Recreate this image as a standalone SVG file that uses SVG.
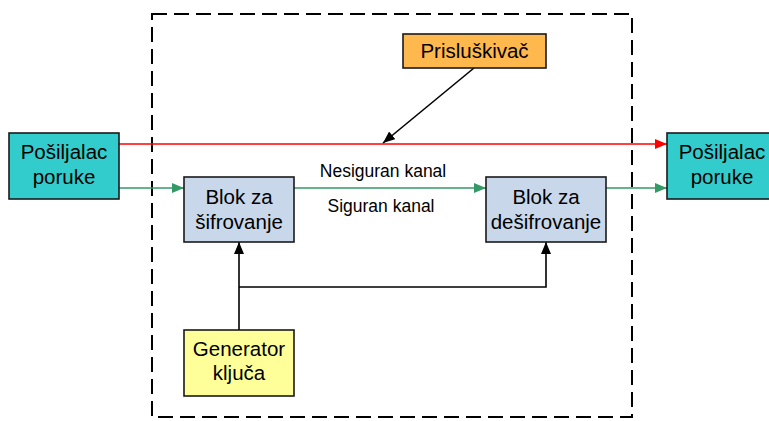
<svg xmlns="http://www.w3.org/2000/svg" width="769" height="421" viewBox="0 0 769 421">
  <style>
    .box { stroke: #1a1a1a; stroke-width: 1.6; }
    .t { font-family: "Liberation Sans", Arial, sans-serif; font-size: 20.5px; fill: #000; text-anchor: middle; }
    .lbl { font-family: "Liberation Sans", Arial, sans-serif; font-size: 17.5px; fill: #000; text-anchor: middle; }
    .green { stroke: #339966; stroke-width: 1.6; fill: none; }
    .red { stroke: #ff0000; stroke-width: 1.6; fill: none; }
    .black { stroke: #000; stroke-width: 1.6; fill: none; }
  </style>
  <defs>
    <marker id="ahGreen" markerWidth="12" markerHeight="10" refX="12" refY="5" orient="auto" markerUnits="userSpaceOnUse">
      <path d="M0,0 L12,5 L0,10 Z" fill="#339966"/>
    </marker>
    <marker id="ahRed" markerWidth="12" markerHeight="10" refX="12" refY="5" orient="auto" markerUnits="userSpaceOnUse">
      <path d="M0,0 L12,5 L0,10 Z" fill="#ff0000"/>
    </marker>
    <marker id="ahBlack" markerWidth="12" markerHeight="10" refX="12" refY="5" orient="auto" markerUnits="userSpaceOnUse">
      <path d="M0,0 L12,5 L0,10 Z" fill="#000"/>
    </marker>
  </defs>

  <rect width="769" height="421" fill="#fff"/>

  <!-- dashed boundary of the channel region -->
  <rect id="boundary" x="152" y="14" width="480" height="403" fill="none" stroke="#000" stroke-width="2" stroke-dasharray="15 7"/>

  <g id="connectors">
    <line class="red" x1="119" y1="144" x2="667" y2="144" marker-end="url(#ahRed)"/>
    <line class="green" x1="119" y1="188" x2="184" y2="188" marker-end="url(#ahGreen)"/>
    <line class="green" x1="294" y1="188" x2="486" y2="188" marker-end="url(#ahGreen)"/>
    <line class="green" x1="606" y1="188" x2="667" y2="188" marker-end="url(#ahGreen)"/>
    <line class="black" x1="474" y1="68" x2="383" y2="143" marker-end="url(#ahBlack)"/>
    <line class="black" x1="239" y1="330" x2="239" y2="242" marker-end="url(#ahBlack)"/>
    <polyline class="black" points="239,287 546,287 546,242" marker-end="url(#ahBlack)"/>
    <text class="lbl" x="383" y="177">Nesiguran kanal</text>
    <text class="lbl" x="381" y="212">Siguran kanal</text>
  </g>

  <g id="sender">
    <rect class="box" x="9" y="133" width="110" height="66" fill="#33cccc"/>
    <text class="t" x="64" y="159">Pošiljalac</text>
    <text class="t" x="64" y="184">poruke</text>
  </g>

  <g id="receiver">
    <rect class="box" x="667" y="133" width="110" height="66" fill="#33cccc"/>
    <text class="t" x="722" y="159">Pošiljalac</text>
    <text class="t" x="722" y="184">poruke</text>
  </g>

  <g id="eavesdropper">
    <rect class="box" x="403" y="34" width="143" height="34" fill="#ffb84d"/>
    <text class="t" x="474.5" y="58">Prisluškivač</text>
  </g>

  <g id="encrypt">
    <rect class="box" x="184" y="177" width="110" height="65" fill="#c9d7ea"/>
    <text class="t" x="239" y="204">Blok za</text>
    <text class="t" x="239" y="229">šifrovanje</text>
  </g>

  <g id="decrypt">
    <rect class="box" x="486" y="177" width="120" height="65" fill="#c9d7ea"/>
    <text class="t" x="546" y="204">Blok za</text>
    <text class="t" x="546" y="229">dešifrovanje</text>
  </g>

  <g id="keygen">
    <rect class="box" x="184" y="330" width="110" height="66" fill="#ffff99"/>
    <text class="t" x="239" y="356">Generator</text>
    <text class="t" x="239" y="380">ključa</text>
  </g>
</svg>
